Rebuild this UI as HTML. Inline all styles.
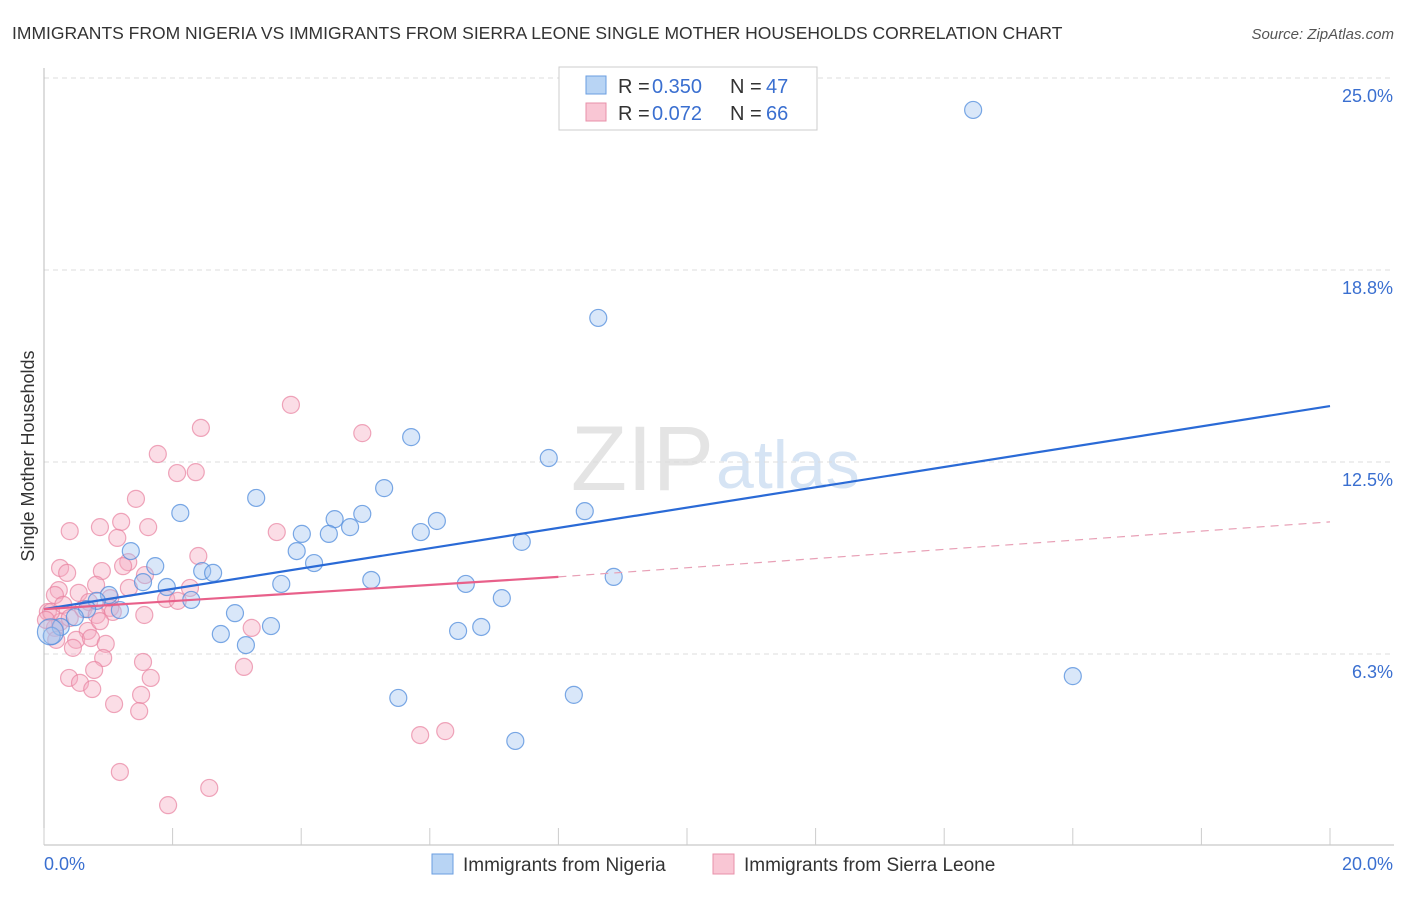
<!DOCTYPE html>
<html><head><meta charset="utf-8"><style>
body{margin:0;background:#fff;font-family:"Liberation Sans",sans-serif}
svg text{font-family:"Liberation Sans",sans-serif}
</style></head><body>
<svg width="1406" height="892">
<text x="12" y="39" font-size="17.5" fill="#333">IMMIGRANTS FROM NIGERIA VS IMMIGRANTS FROM SIERRA LEONE SINGLE MOTHER HOUSEHOLDS CORRELATION CHART</text>
<text x="1394" y="39" font-size="15" fill="#555" font-style="italic" text-anchor="end">Source: ZipAtlas.com</text>
<text x="714" y="490" font-size="92" fill="#e4e4e4" text-anchor="end" font-family="Liberation Serif">ZIP</text>
<text x="716" y="488" font-size="68" fill="#d6e4f4">atlas</text>
<g id="grid"></g>
<g id="axes"></g>
<text transform="translate(34,456) rotate(-90)" font-size="18" fill="#333" text-anchor="middle">Single Mother Households</text>
<g id="pts"></g>
<g id="lines"></g>
<g>
<rect x="559" y="67" width="258" height="63" fill="#fff" stroke="#ccc"/>
<rect x="586" y="76" width="20" height="18" fill="#b8d4f4" stroke="#6a9ee0"/>
<rect x="586" y="103" width="20" height="18" fill="#f9c6d4" stroke="#e890aa"/>
<text x="618" y="93" font-size="20" fill="#333">R = </text><text x="652" y="93" font-size="20" fill="#3a6fd0">0.350</text>
<text x="730" y="93" font-size="20" fill="#333">N = </text><text x="766" y="93" font-size="20" fill="#3a6fd0">47</text>
<text x="618" y="120" font-size="20" fill="#333">R = </text><text x="652" y="120" font-size="20" fill="#3a6fd0">0.072</text>
<text x="730" y="120" font-size="20" fill="#333">N = </text><text x="766" y="120" font-size="20" fill="#3a6fd0">66</text>
</g>
<g>
<rect x="432" y="854" width="21" height="20" fill="#b8d4f4" stroke="#6a9ee0"/>
<text x="463" y="871" font-size="19" fill="#333">Immigrants from Nigeria</text>
<rect x="713" y="854" width="21" height="20" fill="#f9c6d4" stroke="#e890aa"/>
<text x="744" y="871" font-size="19" fill="#333">Immigrants from Sierra Leone</text>
</g>
</svg>
<script>
const xTicks=[0,20];
const yTicks=[6.25,12.5,18.75,25];
const yTickLabels=["6.3%","12.5%","18.8%","25.0%"];
const nigeriaX=[14.45,8.62,5.71,7.85,3.30,5.29,2.12,8.41,4.52,4.95,6.11,4.76,5.86,4.01,4.43,7.43,1.35,3.93,4.2,1.73,1.54,2.46,2.63,5.09,6.56,8.86,1.91,3.69,1.01,0.82,2.29,7.12,1.18,0.67,2.97,0.48,3.53,6.8,6.44,2.75,3.14,0.26,0.12,16.0,8.24,5.51,7.33,0.1];
const nigeriaY=[23.96,17.19,13.31,12.63,11.33,11.65,10.84,10.9,10.64,10.81,10.58,10.38,10.22,10.16,10.16,9.9,9.6,9.6,9.21,9.11,8.59,8.95,8.89,8.66,8.53,8.76,8.43,8.53,8.17,7.98,8.01,8.07,7.68,7.71,7.58,7.45,7.16,7.13,7.0,6.9,6.54,7.13,6.84,5.53,4.92,4.82,3.42,6.97];
const sierraX=[3.84,2.44,4.95,1.77,2.07,2.36,1.43,0.4,0.87,1.2,1.62,1.14,3.62,2.4,0.25,0.36,1.31,0.9,1.57,1.23,0.81,2.27,0.23,0.54,1.03,1.90,2.08,1.32,0.17,0.7,0.61,1.03,1.56,1.07,0.82,0.06,0.68,0.17,0.25,3.23,0.50,0.73,0.45,0.96,0.92,1.54,0.78,0.39,0.56,1.66,3.11,0.75,1.51,1.09,1.48,5.85,6.24,1.18,2.57,1.93,0.11,0.3,0.03,0.19,0.4,0.87];
const sierraY=[14.36,13.61,13.44,12.76,12.14,12.17,11.3,10.25,10.38,10.55,10.38,10.03,10.22,9.44,9.05,8.89,9.24,8.95,8.82,9.11,8.5,8.4,8.33,8.24,8.07,8.04,7.98,8.4,8.17,7.94,7.71,7.75,7.52,7.62,7.52,7.62,7.0,7.1,7.29,7.1,6.71,6.77,6.45,6.58,6.12,5.99,5.73,5.47,5.31,5.47,5.83,5.11,4.92,4.62,4.39,3.61,3.74,2.41,1.89,1.33,7.62,7.85,7.36,6.71,7.42,7.32];
const nigeriaTrend=[[0,7.71],[20,14.32]];
const sierraTrendSolid=[[0,7.71],[8,8.76]];
const sierraTrendDash=[[8,8.76],[20,10.55]];
const X=v=>44+v/20*1286, Y=v=>654-(v-6.25)*30.72;
const NS="http://www.w3.org/2000/svg";
function mk(t,a,p){const e=document.createElementNS(NS,t);for(const k in a)e.setAttribute(k,a[k]);p.appendChild(e);return e;}
const grid=document.getElementById('grid'),axes=document.getElementById('axes');
yTicks.forEach((v,i)=>{
 const l=mk('line',{x1:44,x2:1394,y1:Y(v),y2:Y(v),stroke:'#ddd','stroke-dasharray':'5,4'},grid);
 
 
 const t=mk('text',{x:1393,y:Y(v)+24,'font-size':18,fill:'#3a6fd0','text-anchor':'end'},grid);
 t.textContent=yTickLabels[i];
 
 
});
mk('line',{x1:44,x2:44,y1:68,y2:845,stroke:'#bbb'},axes);
mk('line',{x1:44,x2:1394,y1:845,y2:845,stroke:'#bbb'},axes);
for(let i=0;i<=10;i++){const x=X(i*2);const tk=mk('line',{x1:x,x2:x,y1:828,y2:845,stroke:'#ccc'},axes);
 
 }
xTicks.forEach((v,i)=>{const t=mk('text',{x:i?1393:44,y:870,'font-size':18,fill:'#3a6fd0','text-anchor':i?'end':'start'},axes);
 t.textContent=v.toFixed(1)+'%';
 
 });
const pts=document.getElementById('pts');
sierraX.forEach((x,i)=>{const c=mk('circle',{cx:X(x),cy:Y(sierraY[i]),r:8.5,fill:'rgba(246,170,192,0.4)',stroke:'rgba(232,130,160,0.7)','stroke-width':1.2},pts);
 
 });
nigeriaX.forEach((x,i)=>{const c=mk('circle',{cx:X(x),cy:Y(nigeriaY[i]),r:i==47?13:8.5,fill:'rgba(160,196,240,0.4)',stroke:'rgba(80,140,220,0.75)','stroke-width':1.2},pts);
 
 });
const lines=document.getElementById('lines');
function ln(d,st,name){const l=mk('line',Object.assign({x1:X(d[0][0]),y1:Y(d[0][1]),x2:X(d[1][0]),y2:Y(d[1][1])},st),lines);
 
 }
ln(nigeriaTrend,{stroke:'#2a6ad6','stroke-width':2.2},'nigeria-trend-line');
ln(sierraTrendSolid,{stroke:'#e8608a','stroke-width':2.2},'sierra-leone-trend-line');
ln(sierraTrendDash,{stroke:'#e8a0b6','stroke-width':1.2,'stroke-dasharray':'8,6'},'sierra-leone-trend-extension');
</script>
</body></html>
